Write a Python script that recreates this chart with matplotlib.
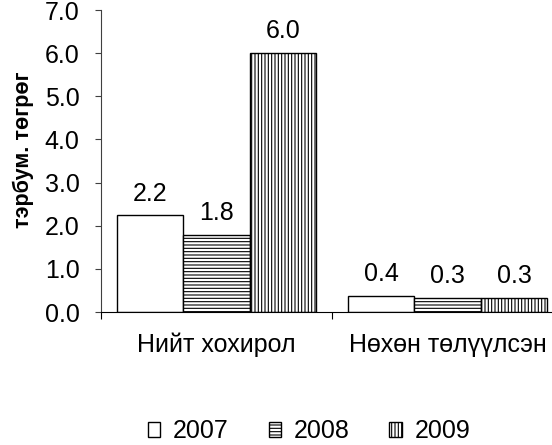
import numpy as np
import matplotlib
matplotlib.use('Agg')
import matplotlib.pyplot as plt

plt.rcParams['font.family'] = ['Liberation Sans', 'DejaVu Sans']
plt.rcParams['hatch.linewidth'] = 0.8

CATEGORIES = ['Нийт хохирол', 'Нөхөн төлүүлсэн']
YEARS = ['2007', '2008', '2009']
VALUES = {
    '2007': [2.24, 0.38],
    '2008': [1.79, 0.32],
    '2009': [6.0, 0.32],
}
HATCHES = ['', '-----', '|||||']
YLABEL = 'тэрбум. төгрөг'
FS = 18

fig = plt.figure(figsize=(5.52, 4.45), dpi=100)
ax = fig.add_axes([101 / 552, 1 - 312 / 445, 462 / 552, 302 / 445])

x = np.arange(len(CATEGORIES))
width = 0.288
for i, yr in enumerate(YEARS):
    bars = ax.bar(x + (i - 1) * width, VALUES[yr], width, color='white',
                  edgecolor='black', linewidth=1, hatch=HATCHES[i], label=yr)
    ax.bar_label(bars, fmt='%.1f', padding=7, fontsize=FS)

ax.set_xlim(-0.5, 1.5)
ax.set_ylim(0, 7)
ax.set_yticks(np.arange(0, 8, 1))
ax.set_yticklabels([f'{v:.1f}' for v in range(8)])
ax.tick_params(axis='y', labelsize=FS, length=4.5, pad=11, color='#404040')

ax.set_xticks([-0.5, 0.5, 1.5])
ax.set_xticklabels([])
ax.set_xticks(x, minor=True)
ax.set_xticklabels(CATEGORIES, minor=True)
ax.tick_params(axis='x', which='major', length=5, color='black')
ax.tick_params(axis='x', which='minor', length=0, pad=15, labelsize=FS)

for s in ['top', 'right']:
    ax.spines[s].set_visible(False)
ax.spines['left'].set_color('#404040')
ax.spines['bottom'].set_color('black')

fig.text(23 / 552, 1 - 150 / 445, YLABEL, rotation=90, fontsize=15.5,
         fontweight='bold', ha='center', va='center')

fig.legend(loc='center', bbox_to_anchor=(309 / 552, 1 - 431 / 445), ncol=3,
           frameon=False, fontsize=FS, handlelength=0.5, handleheight=0.55,
           handletextpad=0.5, columnspacing=1.6, borderpad=0.1)

fig.savefig('out.png', dpi=100, facecolor='white')
